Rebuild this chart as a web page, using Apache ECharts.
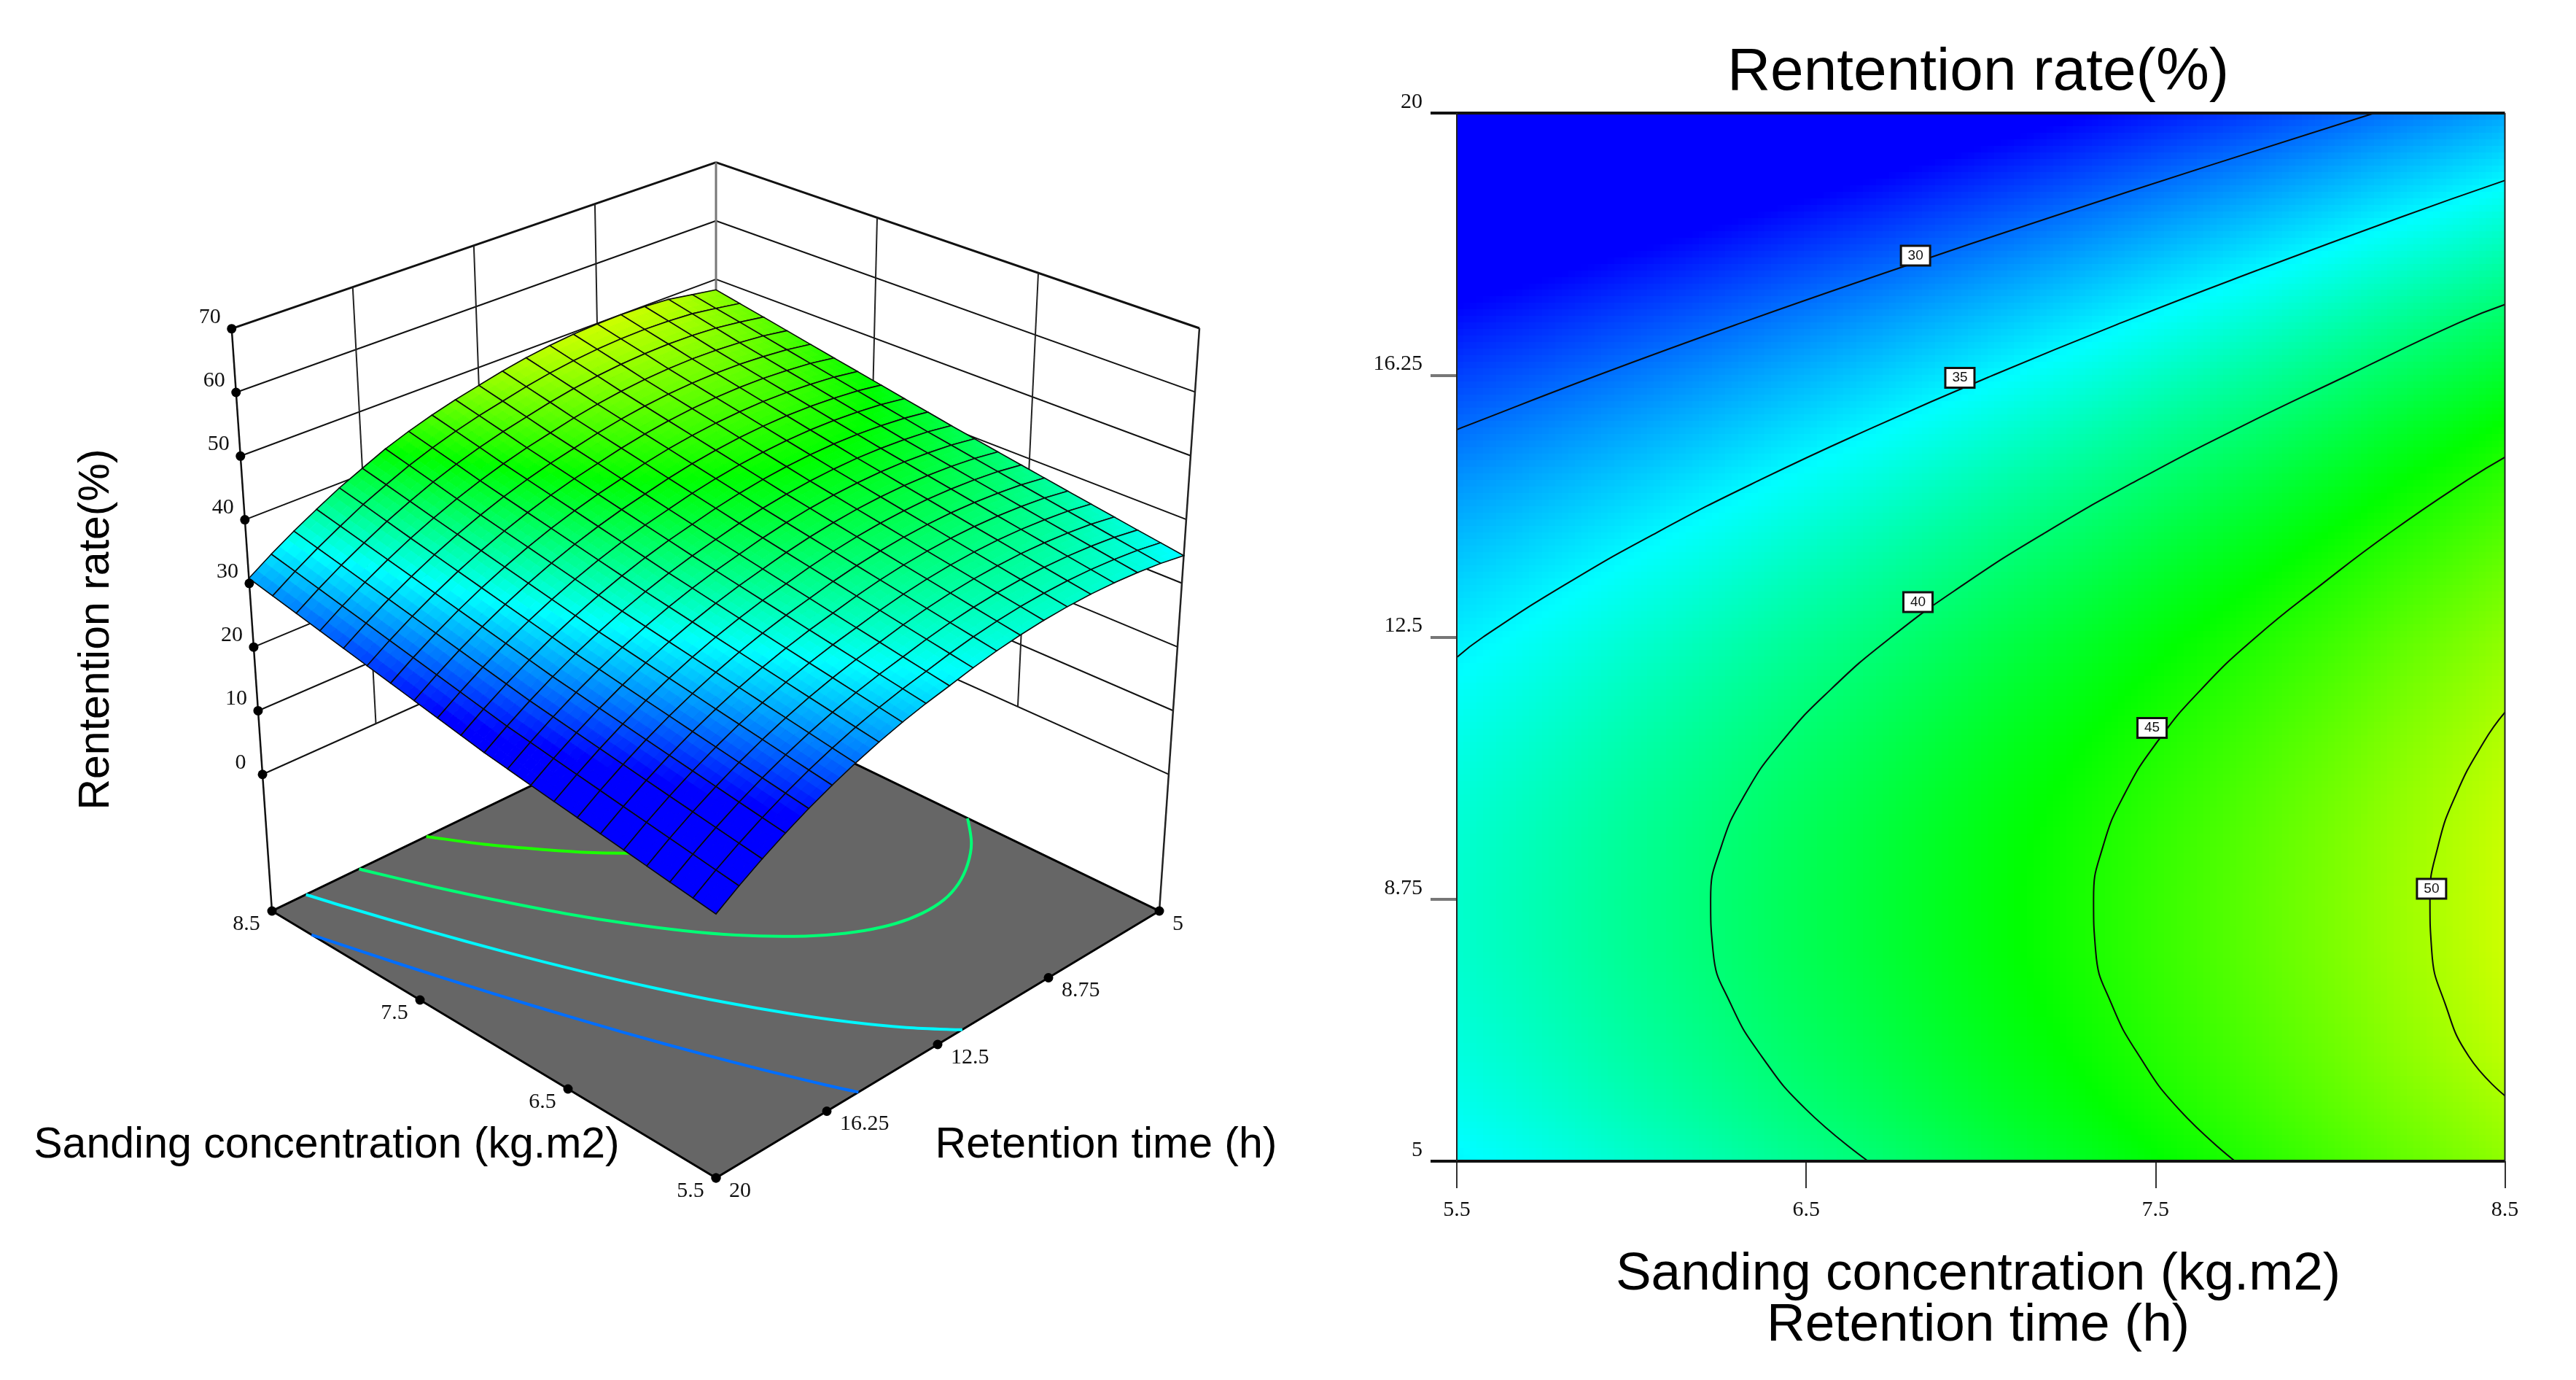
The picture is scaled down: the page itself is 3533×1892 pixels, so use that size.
<!DOCTYPE html>
<html><head><meta charset="utf-8">
<style>html,body{margin:0;padding:0;background:#fff}#c{width:3533px;height:1892px}</style>
<script src="https://cdn.jsdelivr.net/npm/echarts@6/dist/echarts.min.js"></script>
</head><body><div id="c"></div>
<script>
// ---------- data ----------
const sanding = [5.5,5.65,5.8,5.95,6.1,6.25,6.4,6.55,6.7,6.85,7,7.15,7.3,7.45,7.6,7.75,7.9,8.05,8.2,8.35,8.5];
const retention = [5,5.75,6.5,7.25,8,8.75,9.5,10.25,11,11.75,12.5,13.25,14,14.75,15.5,16.25,17,17.75,18.5,19.25,20];
const rate = [
[35.02,35.62,36.21,36.84,37.47,38.11,38.77,39.43,40.10,40.79,41.48,42.19,42.90,43.63,44.37,45.11,45.87,46.64,47.42,48.20,49.00],
[35.80,36.40,37.01,37.64,38.27,38.91,39.57,40.23,40.90,41.59,42.28,42.99,43.70,44.43,45.17,45.91,46.67,47.44,48.22,49.00,49.80],
[36.35,36.95,37.56,38.19,38.82,39.46,40.12,40.78,41.45,42.14,42.83,43.54,44.25,44.98,45.72,46.46,47.22,47.99,48.87,49.73,50.60],
[36.74,37.34,37.95,38.58,39.21,39.85,40.51,41.17,41.84,42.53,43.22,43.93,44.64,45.37,46.11,46.85,47.61,48.38,49.26,50.12,50.99],
[36.96,37.56,38.17,38.80,39.43,40.07,40.73,41.39,42.06,42.75,43.44,44.15,44.86,45.59,46.33,47.07,47.83,48.60,49.48,50.34,51.21],
[36.99,37.59,38.20,38.83,39.46,40.10,40.76,41.42,42.09,42.78,43.47,44.18,44.89,45.62,46.36,47.10,47.86,48.63,49.51,50.37,51.24],
[36.86,37.46,38.07,38.70,39.33,39.97,40.63,41.29,41.96,42.65,43.34,44.05,44.76,45.49,46.23,46.97,47.73,48.50,49.38,50.24,51.11],
[36.56,37.16,37.77,38.40,39.03,39.67,40.33,40.99,41.66,42.35,43.04,43.75,44.46,45.19,45.93,46.67,47.43,48.20,49.08,49.94,50.81],
[36.10,36.70,37.31,37.94,38.57,39.21,39.87,40.53,41.20,41.89,42.58,43.29,44.00,44.73,45.47,46.21,46.97,47.74,48.62,49.48,50.35],
[35.48,36.08,36.69,37.32,37.95,38.59,39.25,39.91,40.58,41.27,41.96,42.67,43.38,44.11,44.85,45.59,46.35,47.12,48.00,48.86,49.73],
[34.70,35.30,35.91,36.54,37.17,37.81,38.47,39.13,39.80,40.49,41.18,41.89,42.60,43.33,44.07,44.81,45.57,46.34,47.22,48.08,48.95],
[33.75,34.35,34.96,35.59,36.22,36.86,37.52,38.18,38.85,39.54,40.23,40.94,41.65,42.38,43.12,43.86,44.62,45.39,46.27,47.13,48.00],
[32.64,33.24,33.85,34.48,35.11,35.75,36.41,37.07,37.74,38.43,39.12,39.83,40.54,41.27,42.01,42.75,43.51,44.28,45.16,46.02,46.89],
[31.37,31.97,32.58,33.21,33.84,34.48,35.14,35.80,36.47,37.16,37.85,38.56,39.27,40.00,40.74,41.48,42.24,43.01,43.89,44.75,45.62],
[29.94,30.54,31.15,31.78,32.41,33.05,33.71,34.37,35.04,35.73,36.42,37.13,37.84,38.57,39.31,40.05,40.81,41.58,42.46,43.32,44.19],
[28.35,28.95,29.56,30.19,30.82,31.46,32.12,32.78,33.45,34.14,34.83,35.54,36.25,36.98,37.72,38.46,39.22,39.99,40.82,41.65,42.45],
[26.60,27.20,27.81,28.44,29.07,29.71,30.37,31.03,31.70,32.39,33.08,33.79,34.50,35.23,35.97,36.71,37.47,38.24,39.07,39.90,40.70],
[24.68,25.28,25.89,26.52,27.15,27.79,28.45,29.11,29.78,30.47,31.16,31.87,32.58,33.31,34.05,34.79,35.55,36.32,37.10,37.88,38.68],
[22.60,23.20,23.81,24.44,25.07,25.71,26.37,27.03,27.70,28.39,29.08,29.79,30.50,31.23,31.97,32.71,33.47,34.24,35.02,35.80,36.60],
[20.36,20.96,21.57,22.20,22.83,23.47,24.13,24.79,25.46,26.15,26.84,27.55,28.26,28.99,29.73,30.47,31.23,32.00,32.78,33.56,34.36],
[17.96,18.56,19.17,19.80,20.43,21.07,21.73,22.39,23.06,23.75,24.44,25.15,25.86,26.59,27.33,28.07,28.83,29.60,30.38,31.16,31.96]
];
// how far the drawn 3D surface sits from the contour table, read at 3x3 places of the box
// rows: time 20, 12.5, 5; columns: sanding 5.5, 7, 8.5
const surfaceOffset = [[-1.15,-1.9,-1.15],[-2.1,-2.25,-1.85],[-0.7,-1.0,-0.8]];
// the floor contours of the 3D view sit about this much further up the table than the plot's
const floorContourShift = 0.55;
const contourLevels = [30,35,40,45,50];
const labelSanding = [6.813,6.94,6.82,7.49,8.29];
const labelTime = [17.96,16.21,13.0,11.2,8.9];
const sandingTicks = [5.5,6.5,7.5,8.5];
const timeTicks = [5,8.75,12.5,16.25,20];
const rateTicks = [0,10,20,30,40,50,60,70];
const titleText = 'Rentention rate(%)';
const sandingName = 'Sanding concentration (kg.m2)';
const timeName = 'Retention time (h)';

// ---------- colour ramp ----------
const rampZ = [26,35.3,44,53];
const rampC = [[0,0,255],[0,255,255],[0,255,0],[255,255,0]];
function colorOf(z){
  if(z<=rampZ[0]) return 'rgb(0,0,255)';
  for(let k=0;k<3;k++){
    if(z<=rampZ[k+1]){
      const f=(z-rampZ[k])/(rampZ[k+1]-rampZ[k]);
      const c=rampC[k].map((v,n)=>Math.round(v+(rampC[k+1][n]-v)*f));
      return 'rgb('+c.join(',')+')';
    }
  }
  return 'rgb(255,255,0)';
}

// ---------- box projection of the left panel: trilinear between the box corners ----------
const zFloor=-21.45, zTop=70;
const box={ // [sanding fraction][time fraction]
  f00:[982,1615], f10:[373,1249], f01:[1590,1249], f11:[982,955],
  t00:[982,750],  t10:[317.7,450.7], t01:[1645,450], t11:[982,222.7]
};
function project(s,t,z){
  const a=(s-5.5)/3,b=(20-t)/15,h=(z-zFloor)/(zTop-zFloor);
  const out=[0,1].map(n=>{
    const fl=(1-a)*(1-b)*box.f00[n]+a*(1-b)*box.f10[n]+(1-a)*b*box.f01[n]+a*b*box.f11[n];
    const tp=(1-a)*(1-b)*box.t00[n]+a*(1-b)*box.t10[n]+(1-a)*b*box.t01[n]+a*b*box.t11[n];
    return fl+(tp-fl)*h;
  });
  return out;
}
function offsetAt(s,t){
  const x=(s-5.5)/1.5,y=(20-t)/7.5;
  const cx=Math.min(1,Math.floor(x)),cy=Math.min(1,Math.floor(y)),u=x-cx,v=y-cy;
  return (1-u)*(1-v)*surfaceOffset[cy][cx]+u*(1-v)*surfaceOffset[cy][cx+1]+u*v*surfaceOffset[cy+1][cx+1]+(1-u)*v*surfaceOffset[cy+1][cx];
}

// ---------- contour tracing on the table ----------
function contourPoints(L){
  const pts=[];
  rate.forEach((row,j)=>{
    for(let i=0;i<20;i++){
      if((row[i]-L)*(row[i+1]-L)<=0 && row[i]!==row[i+1]){
        pts.push([sanding[i]+(L-row[i])/(row[i+1]-row[i])*(sanding[i+1]-sanding[i]),retention[j]]);
        break;
      }
    }
  });
  [0,20].forEach(i=>{
    for(let j=0;j<20;j++){
      const p=rate[j][i],q=rate[j+1][i];
      if((p-L)*(q-L)<0) pts.push([sanding[i],retention[j]+(L-p)/(q-p)*(retention[j+1]-retention[j])]);
    }
  });
  pts.sort((u,v)=>u[1]-v[1]);
  return pts;
}
// only the long branch of a contour that meets the 5.5 edge
function longBranch(pts){
  let start=0;
  pts.forEach((q,k)=>{if(q[0]===sanding[0]) start=k;});
  return pts.slice(start);
}
const contours=contourLevels.map(contourPoints);
const floorContours=contourLevels.map(l=>longBranch(contourPoints(l+floorContourShift)));

const cells=[];
for(let j=0;j<20;j++) for(let i=0;i<20;i++) cells.push([i,j]);
const cellsBackToFront=[];
for(let i=19;i>=0;i--) for(let j=0;j<20;j++) cellsBackToFront.push([i,j]);

// ---------- left panel frame ----------
const frame=[];
function seg(p,q,w,col){frame.push({p,q,w,col});}
const sMin=5.5,sMax=8.5,tMin=5,tMax=20;
rateTicks.forEach(z=>{
  const w=z===70?3:2;
  seg([sMax,tMax,z],[sMax,tMin,z],w,'#111');
  seg([sMin,tMin,z],[sMax,tMin,z],w,'#111');
});
[8.75,12.5,16.25].forEach(t=>seg([sMax,t,0],[sMax,t,70],2,'#222'));
[6.5,7.5].forEach(s=>seg([s,tMin,0],[s,tMin,70],2,'#222'));
seg([sMax,tMax,zFloor],[sMax,tMax,70],2.5,'#111');
seg([sMin,tMin,zFloor],[sMin,tMin,70],2.5,'#222');
seg([sMax,tMin,zFloor],[sMax,tMin,70],3,'#777');

const dots=[];
rateTicks.forEach(z=>dots.push({at:[sMax,tMax,z],text:String(z),dx:-30,dy:-16,align:'center'}));
sandingTicks.forEach(s=>dots.push({at:[s,tMax,zFloor],text:String(s),dx:-35,dy:18,align:'center'}));
timeTicks.forEach(t=>dots.push({at:[sMin,t,zFloor],text:String(t),dx:18,dy:18,align:'left'}));

const serif='"Liberation Serif"', sans='"Liberation Sans"';

const series=[
  // walls
  {type:'custom',coordinateSystem:'none',silent:true,animation:false,clip:false,z:2,
   data:frame.map((f,i)=>[i]),
   renderItem(p){const f=frame[p.dataIndex],a=project(...f.p),b=project(...f.q);
     return {type:'line',shape:{x1:a[0],y1:a[1],x2:b[0],y2:b[1]},style:{stroke:f.col,lineWidth:f.w}};}},
  // floor
  {type:'custom',coordinateSystem:'none',silent:true,animation:false,clip:false,z:3,
   data:[[0]],
   renderItem(){return {type:'polygon',shape:{points:[[sMin,tMax],[sMax,tMax],[sMax,tMin],[sMin,tMin]].map(q=>project(q[0],q[1],zFloor))},
     style:{fill:'#666666',stroke:'#000',lineWidth:3}};}},
  // floor contours
  {type:'custom',coordinateSystem:'none',silent:true,animation:false,clip:false,z:4,
   data:contourLevels.map(l=>[l]),
   renderItem(p,api){const pts=floorContours[p.dataIndex].map(q=>project(q[0],q[1],zFloor));
     return {type:'polyline',shape:{points:pts,smooth:0.3},style:{fill:'none',stroke:colorOf(api.value(0)),lineWidth:4,lineJoin:'round'}};}},
  // surface
  {type:'custom',coordinateSystem:'none',silent:true,animation:false,clip:false,z:5,progressive:0,
   data:cellsBackToFront,
   renderItem(p,api){
     const i=api.value(0),j=api.value(1),n=3,ch=[];
     const zAt=(u,v)=>(1-u)*(1-v)*rate[j][i]+u*(1-v)*rate[j][i+1]+u*v*rate[j+1][i+1]+(1-u)*v*rate[j+1][i];
     const P=(u,v)=>{const s=sanding[i]+u*(sanding[i+1]-sanding[i]),t=retention[j]+v*(retention[j+1]-retention[j]);
       return project(s,t,zAt(u,v)+offsetAt(s,t));};
     for(let a=n-1;a>=0;a--)for(let b=0;b<n;b++){
       const col=colorOf(zAt((a+.5)/n,(b+.5)/n));
       ch.push({type:'polygon',shape:{points:[P(a/n,b/n),P((a+1)/n,b/n),P((a+1)/n,(b+1)/n),P(a/n,(b+1)/n)]},style:{fill:col,stroke:col,lineWidth:1}});
     }
     ch.push({type:'polygon',shape:{points:[P(0,0),P(1,0),P(1,1),P(0,1)]},style:{fill:'none',stroke:'#0a0a0a',lineWidth:1.6}});
     return {type:'group',children:ch};
   }},
  // tick dots and labels of the box
  {type:'custom',coordinateSystem:'none',silent:true,animation:false,clip:false,z:6,
   data:dots.map((d,i)=>[i]),
   renderItem(p){const d=dots[p.dataIndex],c=project(...d.at);
     return {type:'group',children:[
       {type:'circle',shape:{cx:c[0],cy:c[1],r:6.5},style:{fill:'#000'}},
       {type:'text',style:{x:c[0]+d.dx,y:c[1]+d.dy,text:d.text,fill:'#111',font:'30px '+serif,align:d.align,verticalAlign:'middle'}}
     ]};}},
  // contour plot shading
  {type:'custom',coordinateSystem:'cartesian2d',silent:true,animation:false,clip:true,z:2,progressive:0,
   data:cells,
   renderItem(p,api){
     const i=api.value(0),j=api.value(1),n=8,ch=[];
     const ds=sanding[i+1]-sanding[i],dt=retention[j+1]-retention[j];
     for(let a=0;a<n;a++)for(let b=0;b<n;b++){
       const u=(a+.5)/n,v=(b+.5)/n;
       const z=(1-u)*(1-v)*rate[j][i]+u*(1-v)*rate[j][i+1]+u*v*rate[j+1][i+1]+(1-u)*v*rate[j+1][i];
       const c0=api.coord([sanding[i]+a/n*ds,retention[j]+(b+1)/n*dt]),c1=api.coord([sanding[i]+(a+1)/n*ds,retention[j]+b/n*dt]);
       const x0=Math.round(c0[0]),y0=Math.round(c0[1]),x1=Math.round(c1[0]),y1=Math.round(c1[1]);
       ch.push({type:'rect',shape:{x:x0,y:y0,width:x1-x0,height:y1-y0},style:{fill:colorOf(z)}});
     }
     return {type:'group',children:ch};
   }}
];
// contour lines of the plot
contourLevels.forEach((l,k)=>series.push({type:'line',name:String(l),data:contours[k],showSymbol:false,silent:true,animation:false,
  smooth:0.5,z:3,lineStyle:{color:'#0a0a0a',width:2},clip:true}));
// plot border, drawn over the shading
series.push({type:'custom',coordinateSystem:'cartesian2d',silent:true,animation:false,clip:false,z:4,
  data:[[0],[1],[2],[3]],
  renderItem(p,api){
    const k=api.value(0);
    const a=[[5.5,20],[5.5,5],[5.5,5],[8.5,5]][k],b=[[8.5,20],[8.5,5],[5.5,20],[8.5,20]][k];
    const A=api.coord(a),B=api.coord(b);
    return {type:'line',shape:{x1:A[0]-(k<2?36:0),y1:A[1],x2:B[0],y2:B[1]},style:{stroke:k<2?'#111':'#222',lineWidth:k<2?4:2}};
  }});
// contour labels
series.push({type:'custom',coordinateSystem:'cartesian2d',silent:true,animation:false,clip:false,z:5,
  data:contourLevels.map((l,k)=>[labelSanding[k],labelTime[k],l]),
  renderItem(p,api){
    const c=api.coord([api.value(0),api.value(1)]);
    return {type:'group',children:[
      {type:'rect',shape:{x:c[0]-20,y:c[1]-13.5,width:40,height:27},style:{fill:'#fff',stroke:'#111',lineWidth:3}},
      {type:'text',style:{x:c[0],y:c[1],text:String(api.value(2)),fill:'#111',font:'19px '+sans,align:'center',verticalAlign:'middle'}}
    ]};
  }});

const txt=(text,x,y,size,extra)=>Object.assign({type:'text',x,y,silent:true,
  style:{text,x:0,y:0,fill:'#000',font:size+'px '+sans,align:'center',verticalAlign:'middle'}},extra||{});

const option={
  backgroundColor:'#fff',animation:false,
  grid:{left:1998,right:3533-3435.5,top:155,bottom:1892-1592,show:false,outerBoundsMode:'none'},
  xAxis:{type:'value',min:5.5,max:8.5,splitLine:{show:false},axisLine:{show:false},
    axisTick:{show:true,length:37,customValues:sandingTicks,lineStyle:{color:'#333',width:2}},
    axisLabel:{margin:52,customValues:sandingTicks,formatter:v=>String(v),color:'#111',fontFamily:serif,fontSize:30}},
  yAxis:{type:'value',min:5,max:20,splitLine:{show:false},axisLine:{show:false},
    axisTick:{show:true,length:36,customValues:timeTicks,lineStyle:{color:'#777',width:4}},
    axisLabel:{margin:47,customValues:timeTicks,formatter:v=>String(v),color:'#111',fontFamily:serif,fontSize:30,verticalAlign:'bottom'}},
  series,
  graphic:{elements:[
    txt(titleText,2713,100,82),
    txt(sandingName,2713,1748,73),
    txt(timeName,2713,1818,73),
    txt(sandingName,448,1571,59),
    txt(timeName,1517,1571,59),
    txt(titleText,133,863,59,{rotation:Math.PI/2})
  ]}
};
const chart=echarts.init(document.getElementById('c'),null,{renderer:'canvas'});
chart.setOption(option);
</script>
</body></html>
